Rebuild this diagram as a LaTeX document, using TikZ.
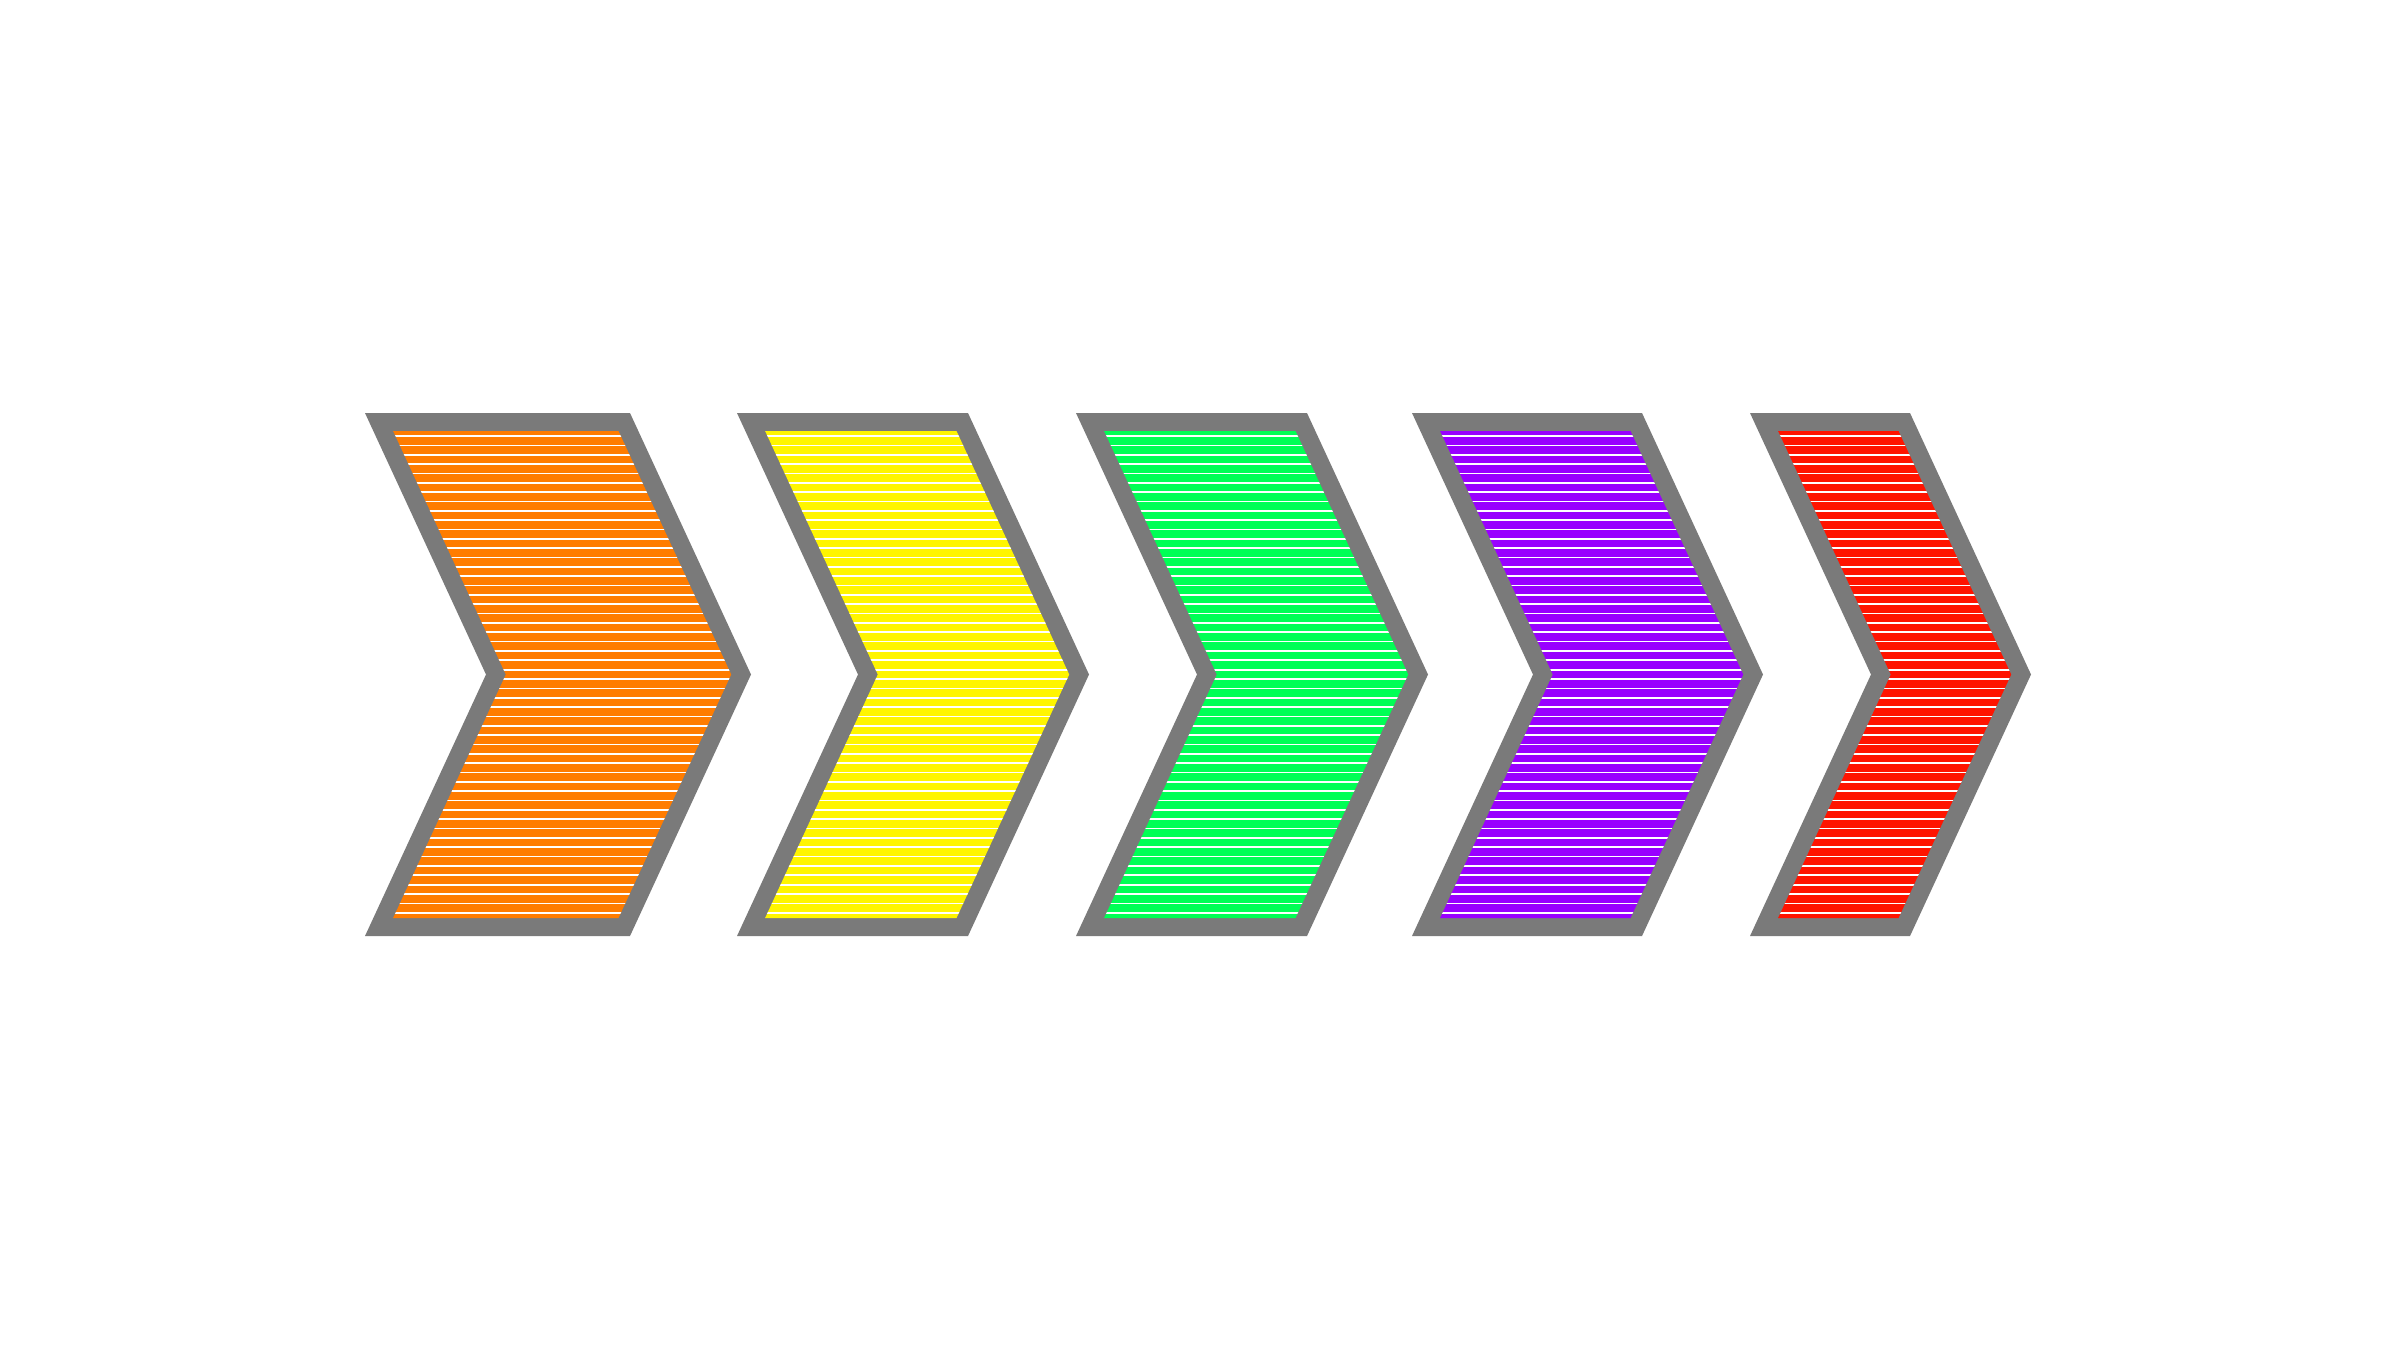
\documentclass[tikz,border=0pt]{standalone}
\definecolor{cgray}{RGB}{122,122,122}
\definecolor{corange}{RGB}{255,124,0}
\definecolor{cyellow}{RGB}{255,245,0}
\definecolor{cgreen}{RGB}{0,255,85}
\definecolor{cpurple}{RGB}{153,0,255}
\definecolor{cred}{RGB}{255,20,0}
\tikzset{
  chevborder/.style={fill=cgray, draw=none},
  chevstripe/.style={draw=white, line width=1.7pt},
}
% #1 = outer top-left x, #2 = outer top-right x, #3 = fill colour
\newcommand\mychevron[3]{%
  \fill[chevborder] (#1,413) -- (#2,413) -- ({#2+121},674.5) -- (#2,936)
     -- (#1,936) -- ({#1+121},674.5) -- cycle;
  \begin{scope}
    \clip ({#1+28.1},431) -- ({#2-11.5},431) -- ({#2+101.2},674.5)
      -- ({#2-11.5},918) -- ({#1+28.1},918) -- ({#1+140.8},674.5) -- cycle;
    \fill[#3] (#1,420) rectangle ({#2+130},930);
    \foreach \k in {0,...,51}
      \draw[chevstripe] ({#1},{436+\k*9.347}) -- ({#2+130},{436+\k*9.347});
  \end{scope}%
}
\begin{document}
\begin{tikzpicture}[x=1pt,y=-1pt]
  \fill[white] (0,0) rectangle (2400,1350);
  \useasboundingbox (0,0) rectangle (2400,1350);
  \mychevron{365}{630}{corange}
  \mychevron{737}{968}{cyellow}
  \mychevron{1076}{1307}{cgreen}
  \mychevron{1412}{1642}{cpurple}
  \mychevron{1750}{1910}{cred}
\end{tikzpicture}
\end{document}
